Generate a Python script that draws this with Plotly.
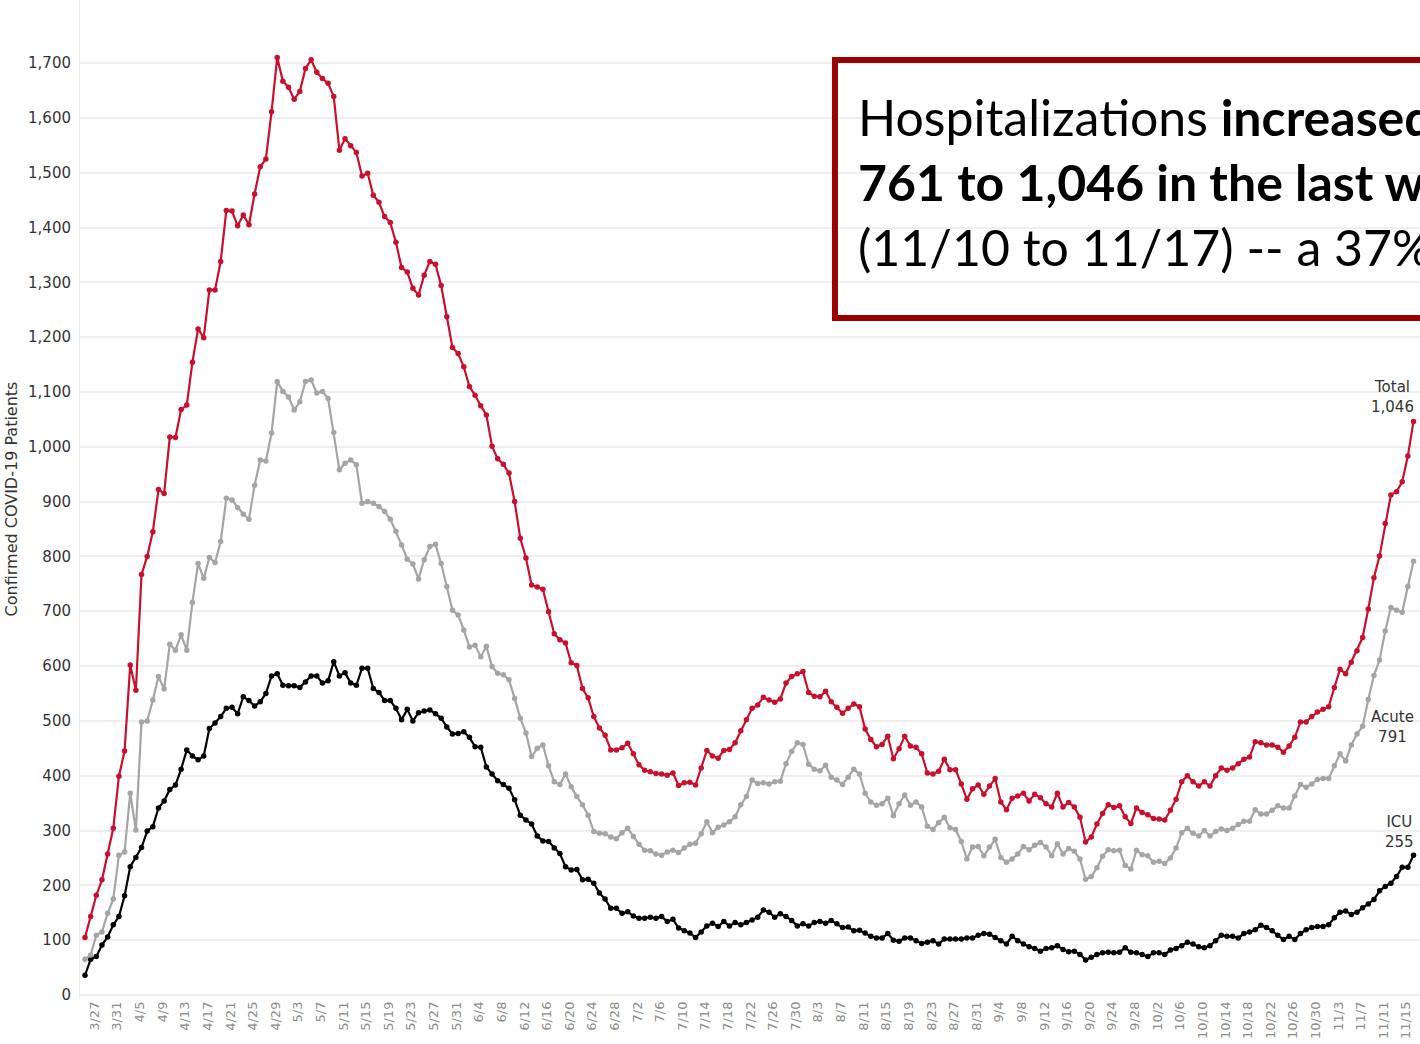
import pandas as pd
import plotly.graph_objects as go

# daily categories 3/26 .. 11/17 (one early-April day is absent from the source)
days = pd.date_range("2020-03-26", "2020-11-17", freq="D")
days = days[days != pd.Timestamp("2020-04-02")]
dates = [f"{d.month}/{d.day}" for d in days]

total = [
    105, 143, 182, 210, 257, 304, 399, 445, 602, 556,
    767, 800, 845, 922, 915, 1018, 1017, 1068, 1076, 1154,
    1215, 1199, 1286, 1286, 1338, 1431, 1430, 1403, 1423, 1405,
    1461, 1511, 1525, 1611, 1710, 1667, 1656, 1634, 1648, 1690,
    1706, 1683, 1672, 1663, 1639, 1541, 1562, 1549, 1537, 1494,
    1499, 1459, 1446, 1420, 1409, 1373, 1327, 1319, 1289, 1277,
    1313, 1338, 1333, 1294, 1237, 1181, 1170, 1146, 1110, 1094,
    1075, 1058, 1001, 978, 968, 952, 900, 833, 797, 748,
    744, 740, 699, 659, 648, 642, 606, 601, 559, 542,
    508, 487, 474, 447, 447, 451, 459, 440, 420, 410,
    407, 404, 403, 401, 405, 382, 387, 388, 383, 414,
    446, 436, 432, 446, 448, 460, 482, 502, 523, 529,
    543, 538, 534, 540, 569, 581, 586, 590, 552, 545,
    544, 554, 535, 525, 514, 523, 531, 526, 485, 466,
    453, 457, 472, 431, 449, 472, 454, 452, 440, 405,
    403, 408, 430, 411, 411, 385, 357, 376, 383, 366,
    381, 395, 352, 338, 359, 363, 368, 354, 366, 360,
    349, 343, 368, 343, 351, 343, 324, 279, 288, 312,
    331, 347, 342, 345, 325, 313, 341, 333, 329, 322,
    321, 319, 337, 357, 389, 400, 389, 381, 389, 381,
    400, 414, 410, 414, 422, 430, 434, 462, 460, 456,
    456, 452, 443, 454, 470, 498, 498, 508, 516, 521,
    526, 561, 594, 586, 607, 628, 652, 704, 761, 801,
    860, 912, 918, 936, 983, 1046,
]

acute = [
    65, 73, 109, 115, 149, 175, 255, 261, 368, 301,
    498, 500, 538, 581, 558, 640, 629, 657, 629, 716,
    787, 760, 798, 789, 827, 906, 903, 889, 877, 868,
    930, 976, 974, 1025, 1119, 1101, 1091, 1067, 1082, 1119,
    1122, 1098, 1101, 1088, 1026, 958, 970, 976, 967, 897,
    900, 897, 891, 882, 868, 846, 821, 795, 786, 759,
    794, 818, 822, 787, 745, 702, 693, 666, 635, 638,
    617, 636, 599, 587, 584, 575, 541, 505, 478, 435,
    450, 456, 418, 389, 384, 403, 380, 362, 347, 328,
    298, 295, 294, 288, 285, 296, 304, 289, 275, 264,
    263, 257, 255, 261, 264, 260, 268, 275, 277, 294,
    316, 296, 306, 310, 316, 325, 347, 362, 392, 386,
    387, 385, 389, 390, 422, 444, 460, 457, 421, 412,
    409, 419, 397, 392, 384, 397, 412, 403, 368, 352,
    346, 349, 359, 327, 349, 365, 346, 352, 343, 308,
    302, 314, 324, 305, 302, 280, 248, 270, 271, 254,
    270, 284, 251, 242, 248, 257, 271, 265, 273, 278,
    270, 254, 276, 257, 267, 262, 248, 211, 216, 232,
    253, 265, 263, 264, 236, 230, 264, 256, 254, 242,
    244, 240, 250, 268, 296, 304, 295, 290, 300, 290,
    298, 303, 300, 304, 311, 317, 317, 338, 330, 330,
    337, 345, 341, 341, 363, 384, 379, 385, 393, 395,
    395, 418, 440, 427, 456, 476, 490, 539, 583, 611,
    664, 707, 702, 698, 745, 791,
]

icu = [
    36, 65, 70, 91, 106, 128, 143, 181, 234, 251,
    269, 299, 307, 341, 354, 375, 383, 412, 447, 436,
    429, 436, 486, 496, 508, 523, 525, 513, 544, 537,
    527, 535, 550, 582, 586, 565, 564, 564, 561, 571,
    582, 582, 569, 573, 608, 582, 588, 569, 565, 596,
    596, 559, 552, 537, 537, 523, 502, 521, 500, 515,
    518, 520, 513, 505, 489, 476, 477, 480, 470, 453,
    452, 416, 403, 391, 384, 377, 356, 328, 319, 312,
    290, 281, 280, 268, 258, 234, 228, 229, 210, 211,
    204, 186, 175, 158, 158, 149, 152, 144, 140, 140,
    142, 140, 143, 134, 138, 122, 117, 113, 105, 115,
    126, 131, 125, 134, 126, 132, 128, 132, 137, 142,
    155, 151, 142, 148, 143, 136, 126, 130, 126, 132,
    134, 131, 136, 130, 123, 124, 117, 118, 113, 107,
    104, 104, 112, 100, 98, 104, 104, 99, 94, 96,
    99, 93, 102, 102, 102, 102, 104, 104, 109, 112,
    111, 105, 99, 93, 107, 99, 93, 88, 85, 80,
    85, 86, 90, 83, 79, 80, 74, 64, 69, 74,
    77, 78, 77, 78, 86, 78, 77, 74, 70, 77,
    77, 74, 82, 85, 90, 96, 93, 88, 86, 90,
    99, 109, 107, 107, 104, 112, 115, 119, 127, 123,
    117, 109, 101, 107, 101, 112, 119, 123, 125, 125,
    128, 141, 151, 153, 147, 151, 159, 166, 174, 190,
    198, 204, 216, 233, 233, 255,
]

y_ticks = list(range(0, 1800, 100))

series = [
    ("ICU", icu, "#000000"),
    ("Acute", acute, "#a5a5a5"),
    ("Total", total, "#c8102e"),
]

fig = go.Figure()
for name, values, color in series:
    fig.add_trace(
        go.Scatter(
            x=dates,
            y=values,
            name=name,
            mode="lines+markers",
            line=dict(color=color, width=2.2),
            marker=dict(color=color, size=5.5),
            cliponaxis=False,
            showlegend=False,
        )
    )

end_labels = [
    ("Total<br>1,046", 1091),
    ("Acute<br>791", 489),
    ("ICU<br>255", 297),
]
for text, y_pos in end_labels:
    fig.add_annotation(
        x=dates[-1], y=y_pos, text=text, showarrow=False,
        xanchor="right", yanchor="middle", align="center", xshift=2,
        font=dict(family="DejaVu Sans", size=15, color="#333333"),
    )

# callout box, cut off by the right edge like the source slide
fig.add_shape(
    type="rect", xref="paper", yref="paper",
    x0=0.5634, x1=1.03, y0=0.6814, y1=0.9399,
    line=dict(color="#990000", width=6),
)
fig.add_annotation(
    xref="paper", yref="paper", x=0.5791, y=0.8176,
    xanchor="left", yanchor="middle", align="left", showarrow=False,
    text=("Hospitalizations <b>increased from</b><br>"
          "<b>761 to 1,046 in the last week</b><br>"
          "(11/10 to 11/17) -- a 37% increase"),
    font=dict(family="Lato", size=50, color="#000000"),
)

fig.update_layout(
    width=1420, height=1044,
    margin=dict(l=80, r=0, t=0, b=46),
    paper_bgcolor="white", plot_bgcolor="white",
    font=dict(family="DejaVu Sans", color="#333333"),
    xaxis=dict(
        type="category",
        range=[-0.885, 236.15],
        tickmode="array",
        tickvals=dates[1::4],
        tickangle=-90,
        tickfont=dict(size=13, color="#8c8c8c"),
        ticklabelshift=4,
        showgrid=False, showline=False, zeroline=False,
        automargin=False,
    ),
    yaxis=dict(
        range=[-5.5, 1815],
        tickmode="array",
        tickvals=y_ticks,
        tickformat=",",
        tickfont=dict(size=15, color="#333333"),
        ticklabelstandoff=5,
        gridcolor="#efefef", gridwidth=1.5,
        showline=True, linecolor="#ebebeb", linewidth=1,
        zeroline=False,
        title=dict(text="Confirmed COVID-19 Patients",
                   font=dict(size=16, color="#333333"), standoff=6),
        automargin=False,
    ),
)

# the page's default body margin would push the figure 8px off the window
fig.write_html(
    "out.html",
    config={"displayModeBar": False},
    post_script="document.body.style.margin = '0'; document.body.style.overflow = 'hidden';",
)
